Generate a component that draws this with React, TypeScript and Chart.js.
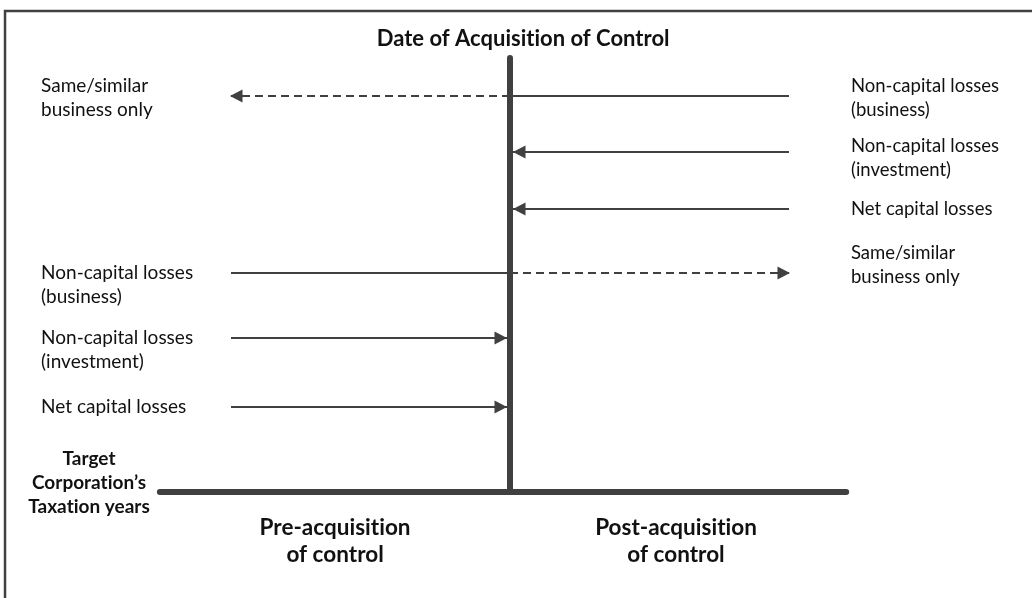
import { useEffect, useRef } from "react";
import { Chart, registerables } from "chart.js";

Chart.register(...registerables);

// ---- diagram data ----------------------------------------------------------
// x: timeline (-1 = earliest pre-acquisition year, 0 = acquisition of control, +1 = latest post-acquisition year)
// y: height above the taxation-years axis
const arrowLevels = [396, 340, 283, 219, 154, 85];
const arrowStart = [1, 1, 1, -1, -1, -1];
const arrowSolidEnd = [0, 0, 0, 0, 0, 0];
const arrowDashedEnd: (number | null)[] = [-1, null, null, 1, null, null];

const axisExtent = [-1.255, 1.205];
const controlDateTop = 434;

const postLabels = [
  ["Non-capital losses", "(business)"],
  ["Non-capital losses", "(investment)"],
  ["Net capital losses"],
  ["Same/similar", "business only"],
];
const postLabelLevels = [406, 346, 283, 239];

const preLabels = [
  ["Same/similar", "business only"],
  ["Non-capital losses", "(business)"],
  ["Non-capital losses", "(investment)"],
  ["Net capital losses"],
];
const preLabelLevels = [406, 219, 154, 85];

const titleText = "Date of Acquisition of Control";
const axisTitle = ["Target", "Corporation\u2019s", "Taxation years"];
const periodLabels = [["Pre-acquisition", "of control"], ["Post-acquisition", "of control"]];
const periodCenters = [-0.627, 0.595];

const INK = "#404040";
const TEXT = "#111111";
const FONT = "Lato, 'Open Sans', sans-serif";

export default function App() {
  const ref = useRef<HTMLCanvasElement | null>(null);

  useEffect(() => {
    const canvas = ref.current;
    if (!canvas) return;

    const datasets: any[] = [];
    // frame
    datasets.push({
      data: [{ x: -1.81, y: -300 }, { x: -1.81, y: 481 }, { x: 3, y: 481 }],
      borderColor: INK,
      borderWidth: 2.5,
      order: 3,
    });
    // taxation years axis
    datasets.push({
      data: [{ x: axisExtent[0], y: 0 }, { x: axisExtent[1], y: 0 }],
      borderColor: INK,
      borderWidth: 6,
      borderCapStyle: "round",
      order: 0,
    });
    // acquisition of control line
    datasets.push({
      data: [{ x: 0, y: 0 }, { x: 0, y: controlDateTop }],
      borderColor: INK,
      borderWidth: 6,
      borderCapStyle: "round",
      order: 0,
    });
    arrowLevels.forEach((lvl, i) => {
      datasets.push({
        data: [{ x: arrowStart[i], y: lvl }, { x: arrowSolidEnd[i], y: lvl }],
        borderColor: INK,
        borderWidth: 2,
        order: 1,
      });
      const d = arrowDashedEnd[i];
      if (d !== null) {
        datasets.push({
          data: [{ x: arrowSolidEnd[i], y: lvl }, { x: d, y: lvl }],
          borderColor: INK,
          borderWidth: 2,
          borderDash: [8, 5],
          order: 1,
        });
      }
    });

    const arrowHeads = {
      id: "arrowHeads",
      afterDatasetsDraw(chart: any) {
        const { ctx, scales } = chart;
        const xs = scales.x, ys = scales.y;
        ctx.save();
        ctx.fillStyle = INK;
        arrowLevels.forEach((lvl, i) => {
          const d = arrowDashedEnd[i];
          let from: number, to: number, offset = 0;
          if (d !== null) {
            from = arrowSolidEnd[i];
            to = d;
            offset = -1;
          } else {
            from = arrowStart[i];
            to = arrowSolidEnd[i];
            offset = 3;
          }
          const dir = Math.sign(to - from);
          const tipX = xs.getPixelForValue(to) - dir * offset;
          const py = ys.getPixelForValue(lvl);
          const len = 12.5, half = 6.5;
          ctx.beginPath();
          ctx.moveTo(tipX, py);
          ctx.lineTo(tipX - dir * len, py - half);
          ctx.lineTo(tipX - dir * len, py + half);
          ctx.closePath();
          ctx.fill();
        });
        ctx.restore();
      },
    };

    const texts = {
      id: "texts",
      afterDraw(chart: any) {
        const { ctx, scales } = chart;
        const xs = scales.x, ys = scales.y;
        ctx.save();
        ctx.fillStyle = TEXT;
        ctx.textBaseline = "middle";
        try { (ctx as any).letterSpacing = "0.01px"; } catch (e) {}
        const drawLines = (lines: string[], x: number, y: number, lh: number, font: string, align: CanvasTextAlign) => {
          ctx.font = font;
          ctx.textAlign = align;
          const px = xs.getPixelForValue(x);
          const py = ys.getPixelForValue(y);
          lines.forEach((t, k) => ctx.fillText(t, px, py + k * lh));
        };
        drawLines([titleText], 0.047, 453, 0, `bold 22px ${FONT}`, "center");
        preLabels.forEach((l, i) => drawLines(l, -1.681, preLabelLevels[i], 24, `19px ${FONT}`, "left"));
        postLabels.forEach((l, i) => drawLines(l, 1.222, postLabelLevels[i], 24, `18.5px ${FONT}`, "left"));
        drawLines(axisTitle, -1.509, 33, 24, `bold 19px ${FONT}`, "center");
        periodLabels.forEach((l, i) => drawLines(l, periodCenters[i], -36, 27, `bold 22.5px ${FONT}`, "center"));
        ctx.restore();
      },
    };

    const chart = new Chart(canvas, {
      type: "scatter",
      data: { datasets },
      options: {
        animation: false,
        responsive: false,
        events: [],
        layout: { padding: 0 },
        showLine: true,
        elements: { point: { radius: 0 }, line: { tension: 0 } },
        scales: {
          x: { type: "linear", display: false, min: -1.828, max: 1.871 },
          y: { type: "linear", display: false, min: -106, max: 492 },
        },
        plugins: { legend: { display: false }, tooltip: { enabled: false } },
      } as any,
      plugins: [arrowHeads, texts],
    });
    return () => chart.destroy();
  }, []);

  return (
    <div style={{ position: "fixed", left: 0, top: 0, width: 1032, height: 598, background: "#fff" }}>
      <canvas ref={ref} width={1032} height={598} style={{ display: "block" }} />
    </div>
  );
}
